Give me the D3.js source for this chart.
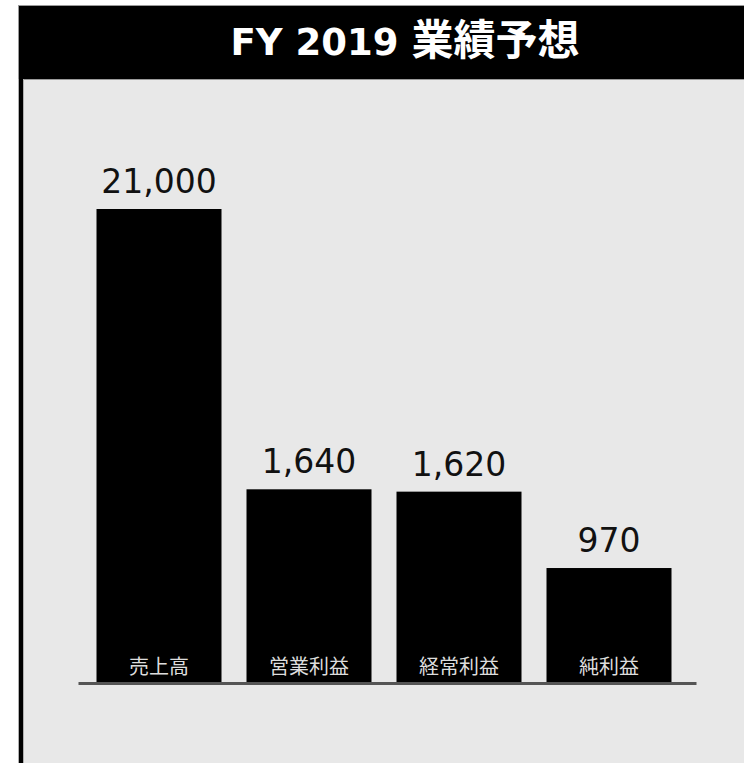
<!DOCTYPE html>
<html>
<head>
<meta charset="utf-8">
<script src="https://cdn.jsdelivr.net/npm/d3@7"></script>
<style>
  html, body { margin: 0; padding: 0; background: #ffffff; overflow: hidden; }
  svg { display: block; }
</style>
</head>
<body>
<svg id="chart" width="744" height="763"></svg>
<script>
const titleLatin = "FY 2019 ";
const titleCJK = "業績予想";
const categories = ["売上高", "営業利益", "経常利益", "純利益"];
const values = [21000, 1640, 1620, 970];
const valueLabels = ["21,000", "1,640", "1,620", "970"];
// broken-axis breakpoints (the revenue bar is shown truncated)
const scaleDomain = [0, 2000, 21000];

const svg = d3.select("#chart");
const W = 744, H = 763;

// frame
svg.append("rect").attr("x", 0).attr("y", 0).attr("width", W).attr("height", H).attr("fill", "#ffffff");
svg.append("rect").attr("x", 23).attr("y", 80).attr("width", W - 23).attr("height", H - 80).attr("fill", "#e8e8e8");
svg.append("rect").attr("x", 18).attr("y", 5).attr("width", W).attr("height", 75).attr("fill", "#9a9a9a");
svg.append("rect").attr("x", 19).attr("y", 6).attr("width", W).attr("height", 73).attr("fill", "#000000");
svg.append("rect").attr("x", 18).attr("y", 79).attr("width", 6).attr("height", H - 79).attr("fill", "#b0b0b0");
svg.append("rect").attr("x", 19).attr("y", 79).attr("width", 4).attr("height", H - 79).attr("fill", "#000000");

const t = svg.append("text")
  .attr("x", 405).attr("y", 55)
  .attr("text-anchor", "middle")
  .attr("font-weight", "bold")
  .attr("fill", "#ffffff");
t.append("tspan")
  .attr("font-family", "'DejaVu Sans', Verdana, sans-serif")
  .attr("font-size", 37)
  .text(titleLatin);
t.append("tspan")
  .attr("font-family", "'Noto Sans CJK JP', sans-serif")
  .attr("font-size", 42)
  .text(titleCJK);

const baseY = 682;
const x = d3.scaleBand().domain(categories).range([96.5, 671.5]).paddingInner(1 / 6).paddingOuter(0);
const y = d3.scaleLinear().domain(scaleDomain).range([baseY, baseY - 235, 209]);

const g = svg.append("g");

g.selectAll("rect.bar").data(values).enter().append("rect")
  .attr("class", "bar")
  .attr("x", (d, i) => x(categories[i]))
  .attr("y", d => y(d))
  .attr("width", x.bandwidth())
  .attr("height", d => baseY - y(d))
  .attr("fill", "#000000");

// baseline
g.append("line")
  .attr("x1", x.range()[0] - 18).attr("x2", x.range()[1] + 25)
  .attr("y1", baseY + 1.5).attr("y2", baseY + 1.5)
  .attr("stroke", "#555555").attr("stroke-width", 3);

g.selectAll("text.val").data(values).enter().append("text")
  .attr("class", "val")
  .attr("x", (d, i) => x(categories[i]) + x.bandwidth() / 2)
  .attr("y", d => y(d) - 16)
  .attr("text-anchor", "middle")
  .attr("font-family", "'DejaVu Sans', Verdana, sans-serif")
  .attr("font-size", 33)
  .attr("fill", "#111111")
  .text((d, i) => valueLabels[i]);

g.selectAll("text.cat").data(categories).enter().append("text")
  .attr("class", "cat")
  .attr("x", d => x(d) + x.bandwidth() / 2)
  .attr("y", 674)
  .attr("text-anchor", "middle")
  .attr("font-family", "'Noto Sans CJK JP', sans-serif")
  .attr("font-size", 20)
  .attr("fill", "#dddddd")
  .text(d => d);
</script>
</body>
</html>
